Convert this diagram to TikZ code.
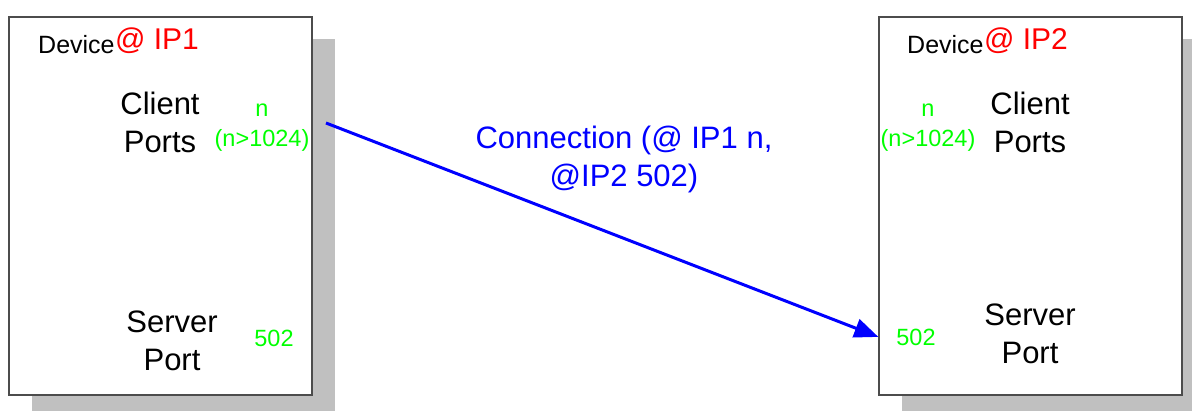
\documentclass[tikz,border=0pt]{standalone}
\usepackage{fontspec}
\setmainfont{Liberation Sans}
\usetikzlibrary{arrows.meta,shadows}
\definecolor{shade}{RGB}{192,192,192}
\definecolor{ipred}{RGB}{255,0,0}
\definecolor{portgreen}{RGB}{0,255,0}
\definecolor{linkblue}{RGB}{0,0,255}
\tikzset{
  device/.style = {draw=black!70, fill=white, line width=1.3pt, inner sep=0pt,
    minimum width=303pt, minimum height=378pt,
    drop shadow={shadow xshift=23pt, shadow yshift=-22pt, fill=shade, opacity=1}},% machine
  devname/.style = {inner sep=0pt, font=\fontsize{25}{30}\selectfont},% nom
  ipaddr/.style = {inner sep=0pt, ipred, font=\fontsize{30}{36}\selectfont},% adresse
  portlbl/.style = {align=center, inner sep=0pt, font=\fontsize{31}{38}\selectfont},% type de port
  portnum/.style = {align=center, inner sep=0pt, portgreen,
    font=\fontsize{23.5}{30}\selectfont},% numero de port
  link/.style = {draw=linkblue, line width=3pt, -{Triangle[length=24pt, width=19pt]}},
  linklbl/.style = {align=center, inner sep=0pt, linkblue, font=\fontsize{31}{38}\selectfont}
}

\begin{document}
\begin{tikzpicture}[x=1pt, y=-1pt]
  \clip (0,0) rectangle (1192,410);
  % machines
  \node [device] (dev1) at (160.5,206) {};
  \node [device] (dev2) at (1030.5,206) {};
  % noms et adresses
  \node [devname, anchor=base west] (name1) at (38,53) {Device};
  \node [ipaddr, anchor=base west] (ip1) at ([yshift=4pt]name1.base east) {@ IP1};
  \node [devname, anchor=base west] (name2) at (907,53) {Device};
  \node [ipaddr, anchor=base west] (ip2) at ([yshift=4pt]name2.base east) {@ IP2};
  % ports
  \node [portlbl, anchor=base] (client1) at (160,152) {Client\\Ports};
  \node [portnum, anchor=base] (n1) at (262,146) {n\\(n>1024)};
  \node [portlbl, anchor=base] (server1) at (172,370) {Server\\Port};
  \node [portnum, anchor=base] (p1) at (274,346) {502};
  \node [portlbl, anchor=base] (client2) at (1030,152) {Client\\Ports};
  \node [portnum, anchor=base] (n2) at (928,146) {n\\(n>1024)};
  \node [portlbl, anchor=base] (server2) at (1030,363) {Server\\Port};
  \node [portnum, anchor=base] (p2) at (916,345) {502};
  % connexion
  \coordinate (src) at (326,123);
  \draw [link] (src) -- (dev2.west |- p2);
  \node [linklbl, anchor=base] (conn) at (624,186) {Connection (@ IP1 n,\\@IP2 502)};
\end{tikzpicture}
\end{document}
